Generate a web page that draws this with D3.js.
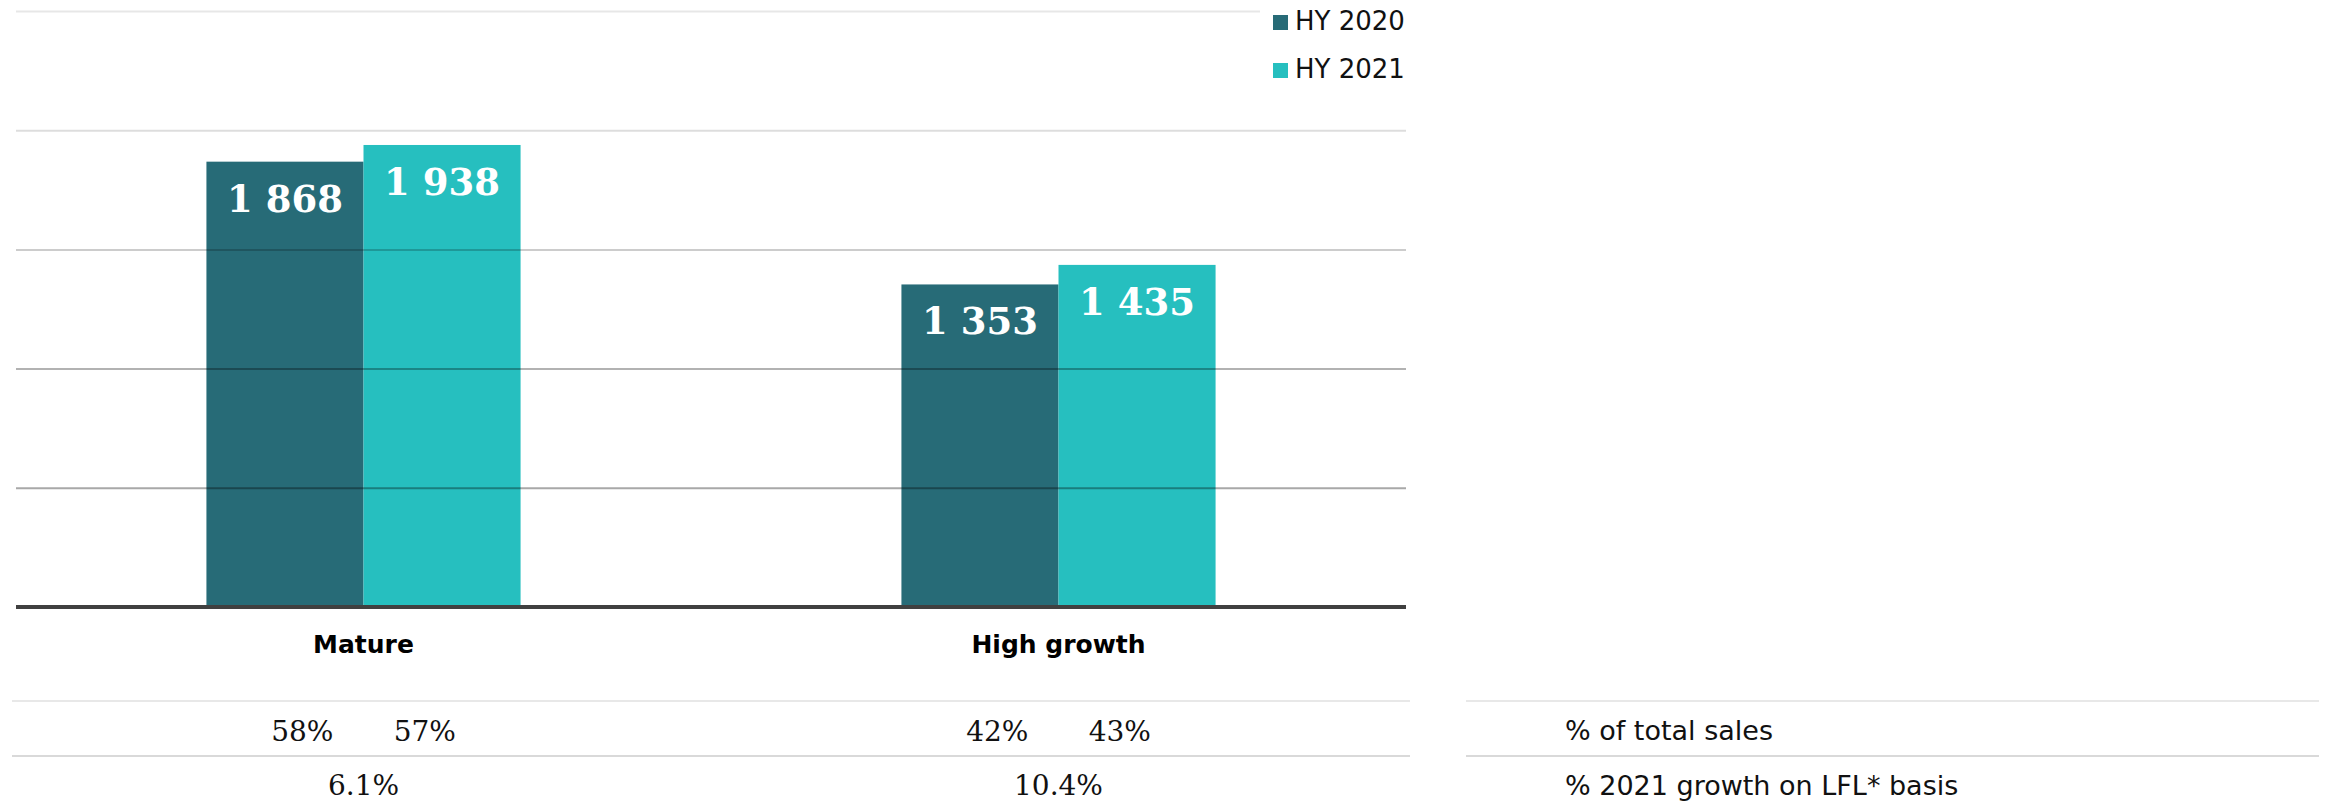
<!DOCTYPE html>
<html>
<head>
<meta charset="utf-8">
<script src="https://cdn.jsdelivr.net/npm/d3@7/dist/d3.min.js"></script>
<style>
  html, body { margin: 0; padding: 0; background: #ffffff; }
  svg { display: block; }
</style>
</head>
<body>
<svg id="chart" width="2331" height="809"></svg>
<script>
// ---- data ----
const categories = ["Mature", "High growth"];
const seriesNames = ["HY 2020", "HY 2021"];
const hy2020 = [1868, 1353];
const hy2021 = [1938, 1435];
const share2020 = ["58%", "42%"];
const share2021 = ["57%", "43%"];
const lflGrowth = ["6.1%", "10.4%"];
const yTicks = [500, 1000, 1500, 2000, 2500];
const rowLabels = ["% of total sales", "% 2021 growth on LFL* basis"];
const seriesColors = ["#276b77", "#26bfbf"];

// ---- layout ----
const svg = d3.select("#chart");
const plotLeft = 16, plotRight = 1406, yTop = 11, yBase = 607;

const x0 = d3.scaleBand().domain(categories).range([plotLeft, plotRight])
  .paddingInner(0.548).paddingOuter(0.274);
const x1 = d3.scaleBand().domain(seriesNames).range([0, x0.bandwidth()]);
const y = d3.scaleLinear().domain([0, 2500]).range([yBase, yTop]);
const color = d3.scaleOrdinal().domain(seriesNames).range(seriesColors);

const seriesValues = [hy2020, hy2021];
const barData = [];
categories.forEach((c, i) => {
  seriesNames.forEach((s, j) => barData.push({cat: c, series: s, value: seriesValues[j][i]}));
});

// bars
svg.append("g").selectAll("rect").data(barData).join("rect")
  .attr("x", d => x0(d.cat) + x1(d.series))
  .attr("y", d => y(d.value))
  .attr("width", x1.bandwidth())
  .attr("height", d => y(0) - y(d.value))
  .attr("fill", d => color(d.series));

// gridlines (drawn over bars, translucent)
const gridOpacity = {500: 0.34, 1000: 0.3, 1500: 0.2, 2000: 0.135, 2500: 0.095};
const yAxis = d3.axisLeft(y).tickValues(yTicks).tickSize(-(plotRight - plotLeft)).tickFormat("");
const gAxis = svg.append("g").attr("transform", `translate(${plotLeft},0)`).call(yAxis);
gAxis.select(".domain").remove();
gAxis.selectAll(".tick line")
  .attr("stroke", "#000")
  .attr("stroke-width", 2)
  .attr("stroke-opacity", d => gridOpacity[d]);
// top gridline stops at legend
gAxis.selectAll(".tick").filter(d => d === 2500).select("line").attr("x2", 1260 - plotLeft);

// baseline
svg.append("line").attr("x1", plotLeft).attr("x2", plotRight)
  .attr("y1", y(0)).attr("y2", y(0))
  .attr("stroke", "#404040").attr("stroke-width", 4);

// bar value labels
svg.append("g").selectAll("text").data(barData).join("text")
  .attr("x", d => x0(d.cat) + x1(d.series) + x1.bandwidth() / 2)
  .attr("y", d => y(d.value) + 50)
  .attr("text-anchor", "middle")
  .attr("fill", "#ffffff")
  .attr("font-family", "'DejaVu Serif', Georgia, serif")
  .attr("font-weight", "bold")
  .attr("font-size", 37)
  .text(d => d3.format(",")(d.value).replace(",", " "));

// category labels
svg.append("g").selectAll("text").data(categories).join("text")
  .attr("x", d => x0(d) + x0.bandwidth() / 2)
  .attr("y", 653)
  .attr("text-anchor", "middle")
  .attr("font-family", "'DejaVu Sans', Verdana, sans-serif")
  .attr("font-weight", "bold")
  .attr("font-size", 25)
  .attr("fill", "#000")
  .text(d => d);

// table row separators
const rowLines = [{y: 701, c: "#e8e8e8"}, {y: 756, c: "#d9d9d9"}];
rowLines.forEach(r => {
  svg.append("line").attr("x1", 12).attr("x2", 1410).attr("y1", r.y).attr("y2", r.y)
    .attr("stroke", r.c).attr("stroke-width", 2);
  svg.append("line").attr("x1", 1466).attr("x2", 2319).attr("y1", r.y).attr("y2", r.y)
    .attr("stroke", r.c).attr("stroke-width", 2);
});

// share of sales row
const off = x0.bandwidth() * 0.195;
const serif = "'DejaVu Serif', Georgia, serif";
categories.forEach((c, i) => {
  const cx = x0(c) + x0.bandwidth() / 2;
  [[share2020[i], cx - off], [share2021[i], cx + off]].forEach(([t, xx]) => {
    svg.append("text").attr("x", xx).attr("y", 741)
      .attr("text-anchor", "middle").attr("font-family", serif)
      .attr("font-size", 28).attr("fill", "#111").text(t);
  });
  svg.append("text").attr("x", cx).attr("y", 795)
    .attr("text-anchor", "middle").attr("font-family", serif)
    .attr("font-size", 28).attr("fill", "#111").text(lflGrowth[i]);
});

// row labels
svg.append("g").selectAll("text").data(rowLabels).join("text")
  .attr("x", 1565)
  .attr("y", (d, i) => i === 0 ? 740 : 795)
  .attr("font-family", "'DejaVu Sans', Verdana, sans-serif")
  .attr("font-size", 27)
  .attr("fill", "#111")
  .text(d => d);

// legend
const legend = svg.append("g").selectAll("g").data(seriesNames).join("g")
  .attr("transform", (d, i) => `translate(1273, ${15 + i * 48})`);
legend.append("rect").attr("width", 15).attr("height", 15).attr("fill", d => color(d));
legend.append("text").attr("x", 22).attr("y", 15)
  .attr("font-family", "'DejaVu Sans', Verdana, sans-serif")
  .attr("font-size", 26).attr("fill", "#111").text(d => d);
</script>
</body>
</html>
